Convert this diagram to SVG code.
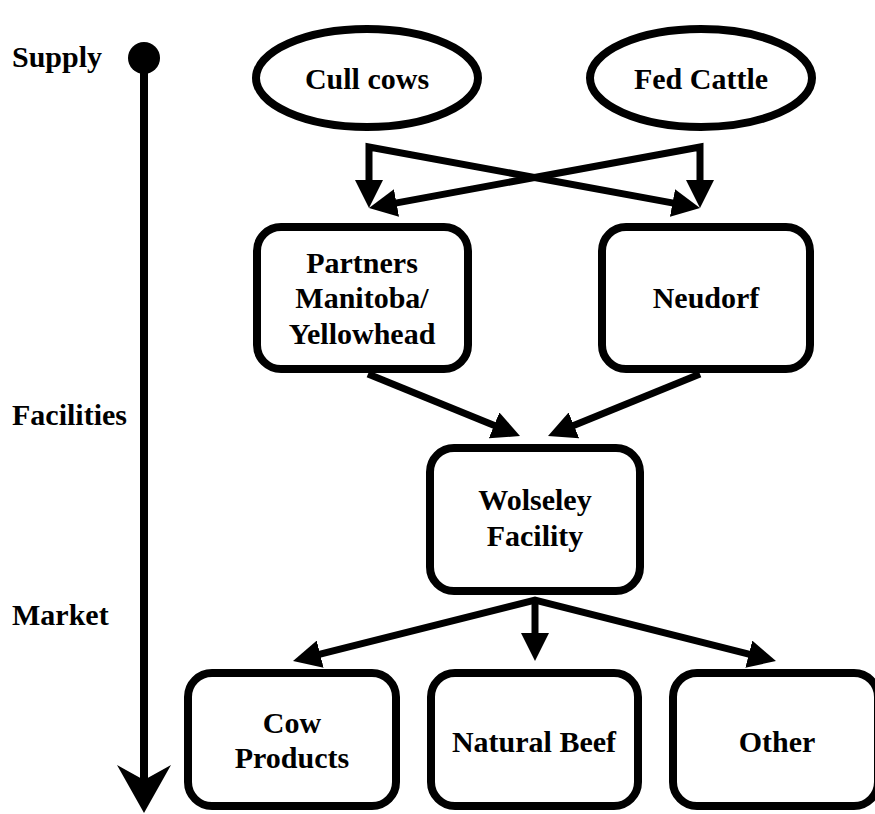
<svg xmlns="http://www.w3.org/2000/svg" width="875" height="814" viewBox="0 0 875 814">
<defs>
<style>
text{font-family:"Liberation Serif","Times New Roman",serif;font-weight:bold;font-size:30px;fill:#000}
.c{text-anchor:middle}
.box{fill:#fff;stroke:#000;stroke-width:8}
.ln{fill:none;stroke:#000;stroke-width:7}
</style>
<marker id="ah" viewBox="0 0 28 28" refX="1" refY="14" markerWidth="28" markerHeight="28" markerUnits="userSpaceOnUse" orient="auto-start-reverse">
<path d="M0,0 L28,14 L0,28 z" fill="#000"/>
</marker>
</defs>
<rect width="875" height="814" fill="#fff"/>
<g id="timeline">
<circle cx="144" cy="58" r="16" fill="#000"/>
<line x1="144" y1="58" x2="144" y2="785" stroke="#000" stroke-width="8"/>
<path d="M144,813 L117,765 L144,780 L171,765 z" fill="#000"/>
<text x="12" y="67">Supply</text>
<text x="12" y="425">Facilities</text>
<text x="12" y="625">Market</text>
</g>
<g id="connectors">
<path class="ln" d="M369,181 L369,147 L673.5,203.1" marker-start="url(#ah)" marker-end="url(#ah)"/>
<path class="ln" d="M700,181 L700,147 L395.5,203.1" marker-start="url(#ah)" marker-end="url(#ah)"/>
<line class="ln" x1="368" y1="374" x2="495" y2="425.8" marker-end="url(#ah)"/>
<line class="ln" x1="700" y1="374" x2="573" y2="425.8" marker-end="url(#ah)"/>
<path class="ln" d="M319.2,654.4 L535,600 L749.8,654.4" marker-start="url(#ah)" marker-end="url(#ah)"/>
<line class="ln" x1="535" y1="600" x2="535" y2="634" marker-end="url(#ah)"/>
</g>
<g id="cull-cows">
<ellipse class="box" cx="367" cy="78" rx="111" ry="49"/>
<text class="c" x="367" y="89">Cull cows</text>
</g>
<g id="fed-cattle">
<ellipse class="box" cx="701" cy="78" rx="111" ry="49"/>
<text class="c" x="701" y="89">Fed Cattle</text>
</g>
<g id="partners">
<rect class="box" x="257" y="227" width="211" height="142" rx="24"/>
<text class="c" x="362" y="273">Partners</text>
<text class="c" x="362" y="308">Manitoba/</text>
<text class="c" x="362" y="344">Yellowhead</text>
</g>
<g id="neudorf">
<rect class="box" x="602" y="227" width="208" height="142" rx="24"/>
<text class="c" x="706" y="308">Neudorf</text>
</g>
<g id="wolseley">
<rect class="box" x="430" y="448" width="210" height="143" rx="24"/>
<text class="c" x="535" y="510">Wolseley</text>
<text class="c" x="535" y="546">Facility</text>
</g>
<g id="cow-products">
<rect class="box" x="188" y="673" width="208" height="133" rx="24"/>
<text class="c" x="292" y="733">Cow</text>
<text class="c" x="292" y="768">Products</text>
</g>
<g id="natural-beef">
<rect class="box" x="431" y="673" width="207" height="133" rx="24"/>
<text class="c" x="534" y="752">Natural Beef</text>
</g>
<g id="other">
<rect class="box" x="673" y="673" width="205" height="133" rx="24"/>
<text class="c" x="777" y="752">Other</text>
</g>
</svg>
